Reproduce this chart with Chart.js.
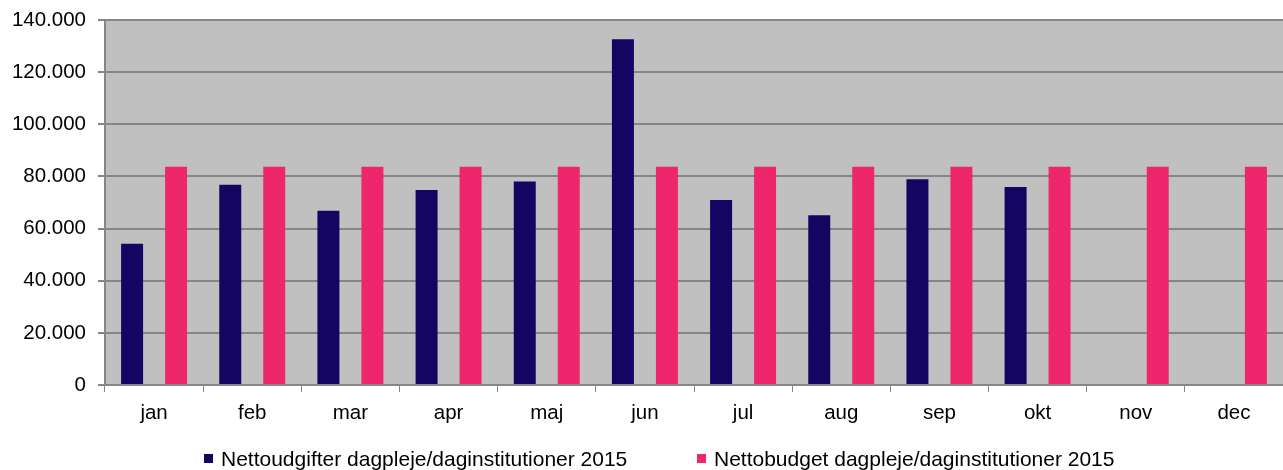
<!DOCTYPE html>
<html>
<head>
<meta charset="utf-8">
<script src="https://cdn.jsdelivr.net/npm/chart.js"></script>
<style>
    body { margin: 0; background: #fff; }
    #wrap { position: relative; width: 1283px; height: 470px; }
    #legend { position: absolute; left: 204px; top: 448px; display: flex; font-family: "Liberation Sans", Arial, sans-serif; font-size: 21px; line-height: 21px; color: #000; }
    .leg-item { display: flex; align-items: center; width: 493px; white-space: nowrap; }
    .leg-box { width: 9px; height: 9px; margin-right: 8px; }
</style>
</head>
<body>
<div id="wrap">
    <canvas id="chart"></canvas>
    <div id="legend"></div>
</div>
<script>
var months = ['jan', 'feb', 'mar', 'apr', 'maj', 'jun', 'jul', 'aug', 'sep', 'okt', 'nov', 'dec'];
var udgifter = [54200, 76800, 66800, 74800, 78100, 132600, 71000, 65100, 78900, 75900, null, null];
var budget = [83700, 83700, 83700, 83700, 83700, 83700, 83700, 83700, 83700, 83700, 83700, 83700];
var yTicks = [0, 20000, 40000, 60000, 80000, 100000, 120000, 140000];

var gridcolor = '#868686';

function formatDk(v) {
    //thousand separator with dot
    return String(v).replace(/\B(?=(\d{3})+(?!\d))/g, '.');
}

// grey plot background
var plotBg = {
    id: 'plotBg',
    beforeDraw: function(chart) {
        let ca = chart.chartArea;
        let ctx = chart.ctx;
        ctx.save();
        ctx.fillStyle = '#C0C0C0';
        ctx.fillRect(ca.left, ca.top, chart.width - ca.left, ca.bottom - ca.top);
        ctx.restore();
    }
};

var udgset = {
    label: 'Nettoudgifter dagpleje/daginstitutioner 2015',
    backgroundColor: '#150563',
    borderColor: '#150563',
    data: udgifter
};
var budset = {
    label: 'Nettobudget dagpleje/daginstitutioner 2015',
    backgroundColor: '#EE276C',
    borderColor: '#EE276C',
    data: budget
};

var ctx = document.getElementById('chart').getContext('2d');
var chart = new Chart(ctx, {
    type: 'bar',
    data: {
        labels: months,
        datasets: [udgset, budset]
    },
    options: {
        responsive: true,
        maintainAspectRatio: false,
        animation: false,
        barPercentage: 0.5,
        categoryPercentage: 0.896,
        layout: { padding: { top: 20, left: 0, right: 0, bottom: 0 } },
        plugins: {
            legend: { display: false },
            tooltip: { enabled: false }
        },
        scales: {
            x: {
                offset: true,
                afterFit: function(scale) {
                    scale.height = 85;
                    scale.paddingLeft = 0;
                    scale.paddingRight = 0;
                },
                grid: {
                    drawOnChartArea: false,
                    drawTicks: true,
                    tickLength: 7,
                    color: function(c) {
                        // no tick at the far right edge
                        return c.index >= months.length ? 'rgba(0,0,0,0)' : gridcolor;
                    },
                    lineWidth: 1,
                    offset: true
                },
                border: { display: true, color: gridcolor, width: 2 },
                ticks: {
                    color: '#000',
                    padding: 9,
                    font: { family: '"Liberation Sans", Arial, sans-serif', size: 20.5 }
                }
            },
            y: {
                min: 0,
                max: 140000,
                afterFit: function(scale) {
                    scale.width = 105;
                    scale.paddingTop = 0;
                    scale.paddingBottom = 0;
                },
                afterBuildTicks: function(scale) {
                    scale.ticks = yTicks.map(function(v) { return { value: v }; });
                },
                grid: {
                    color: gridcolor,
                    lineWidth: 2,
                    tickLength: 7
                },
                border: { display: true, color: gridcolor, width: 2 },
                ticks: {
                    color: '#000',
                    padding: 12,
                    font: { family: '"Liberation Sans", Arial, sans-serif', size: 20.5 },
                    callback: function(v) { return formatDk(v); }
                }
            }
        }
    },
    plugins: [plotBg]
});

// html legend from the datasets
var $leg = document.getElementById('legend');
chart.data.datasets.forEach(function(ds) {
    let item = document.createElement('div');
    item.className = 'leg-item';
    let box = document.createElement('span');
    box.className = 'leg-box';
    box.style.background = ds.backgroundColor;
    let txt = document.createElement('span');
    txt.textContent = ds.label;
    item.appendChild(box);
    item.appendChild(txt);
    $leg.appendChild(item);
});
</script>
</body>
</html>
